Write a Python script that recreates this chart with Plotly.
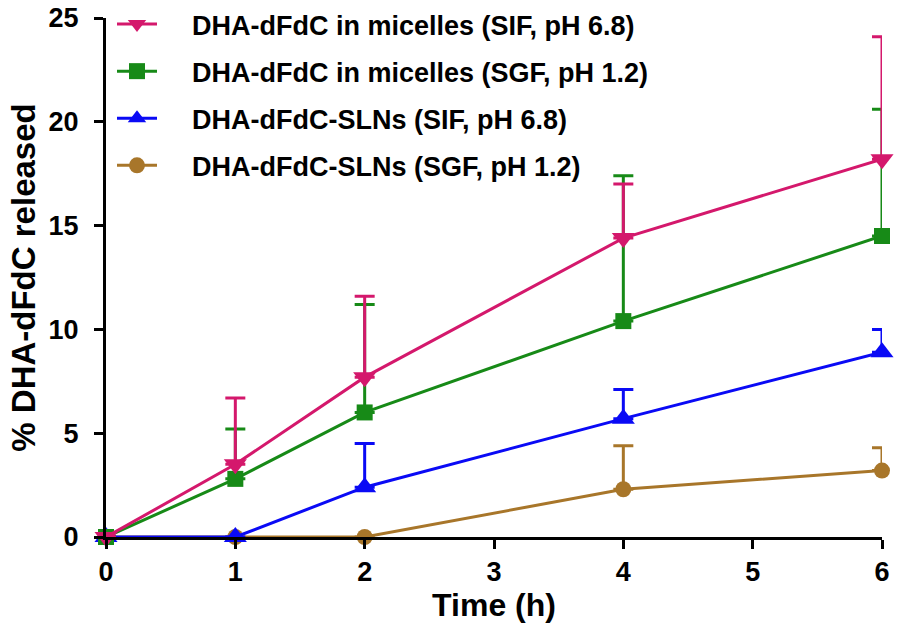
import plotly.graph_objects as go

time_h = [0, 1, 2, 4, 6]

names = [
    "DHA-dFdC in micelles (SIF, pH 6.8)",
    "DHA-dFdC in micelles (SGF, pH 1.2)",
    "DHA-dFdC-SLNs (SIF, pH 6.8)",
    "DHA-dFdC-SLNs (SGF, pH 1.2)",
]

mic_sif = [0, 3.5, 7.7, 14.4, 18.2]
mic_sif_err = [0, 3.2, 3.9, 2.6, 5.9]

mic_sgf = [0, 2.8, 6.0, 10.4, 14.5]
mic_sgf_err = [0, 2.4, 5.2, 7.0, 6.1]

sln_sif = [0, 0, 2.4, 5.7, 8.9]
sln_sif_err = [0, 0, 2.1, 1.4, 1.1]

sln_sgf = [0, 0, 0, 2.3, 3.2]
sln_sgf_err = [0, 0, 0, 2.1, 1.1]

colors = ["#D4186C", "#178A17", "#0A0AF5", "#A8762A"]
symbols = ["triangle-down", "square", "triangle-up", "circle"]
sizes = [20, 16, 20, 16]
series = [mic_sif, mic_sgf, sln_sif, sln_sgf]
errors = [mic_sif_err, mic_sgf_err, sln_sif_err, sln_sgf_err]

FONT = "Arial, Liberation Sans, Helvetica, sans-serif"
PAD = "\u00a0\u00a0\u00a0\u00a0"

fig = go.Figure()
# draw in reverse so the first legend entry is drawn on top
for i in reversed(range(4)):
    fig.add_trace(go.Scatter(
        x=time_h, y=series[i], name=PAD + names[i], mode="lines+markers",
        legendgroup=f"g{i}", legendrank=i + 1,
        line=dict(color=colors[i], width=3),
        marker=dict(symbol=symbols[i], size=sizes[i], color=colors[i]),
        error_y=dict(type="data", array=errors[i], arrayminus=[0]*5,
                     symmetric=False, color=colors[i], thickness=3, width=10),
        cliponaxis=False,
    ))

fig.update_layout(
    width=900, height=642,
    margin=dict(l=106, r=18, t=0, b=105, autoexpand=False),
    paper_bgcolor="white", plot_bgcolor="white",
    font=dict(family=FONT, color="black", size=26, weight="bold"),
    showlegend=True,
    legend=dict(
        x=6 / 776, y=1.0, xanchor="left", yanchor="top",
        traceorder="grouped", tracegroupgap=9,
        font=dict(size=27, family=FONT, weight="bold", color="black"),
        bgcolor="rgba(0,0,0,0)", itemwidth=40,
    ),
    xaxis=dict(
        range=[0, 6], tickvals=[0, 1, 2, 3, 4, 5, 6], automargin=False,
        showline=True, linecolor="black", linewidth=3,
        ticks="outside", ticklen=9, tickwidth=3, tickcolor="black",
        showgrid=False, zeroline=False,
        tickfont=dict(size=27, family=FONT, weight="bold"),
        title=dict(text="Time (h)", font=dict(size=32, family=FONT, weight="bold"), standoff=4),
    ),
    yaxis=dict(
        range=[0, 25], tickvals=[0, 5, 10, 15, 20, 25], automargin=False,
        domain=[0, 1 - 18 / 537],
        showline=True, linecolor="black", linewidth=3,
        ticks="outside", ticklen=9, tickwidth=3, tickcolor="black",
        ticklabelstandoff=10,
        showgrid=False, zeroline=False,
        tickfont=dict(size=27, family=FONT, weight="bold"),
        title=dict(text="% DHA-dFdC released", font=dict(size=33, family=FONT, weight="bold"), standoff=4),
    ),
)

fig.write_html("out.html", config={"displayModeBar": False},
               post_script="document.body.style.margin='0';")
